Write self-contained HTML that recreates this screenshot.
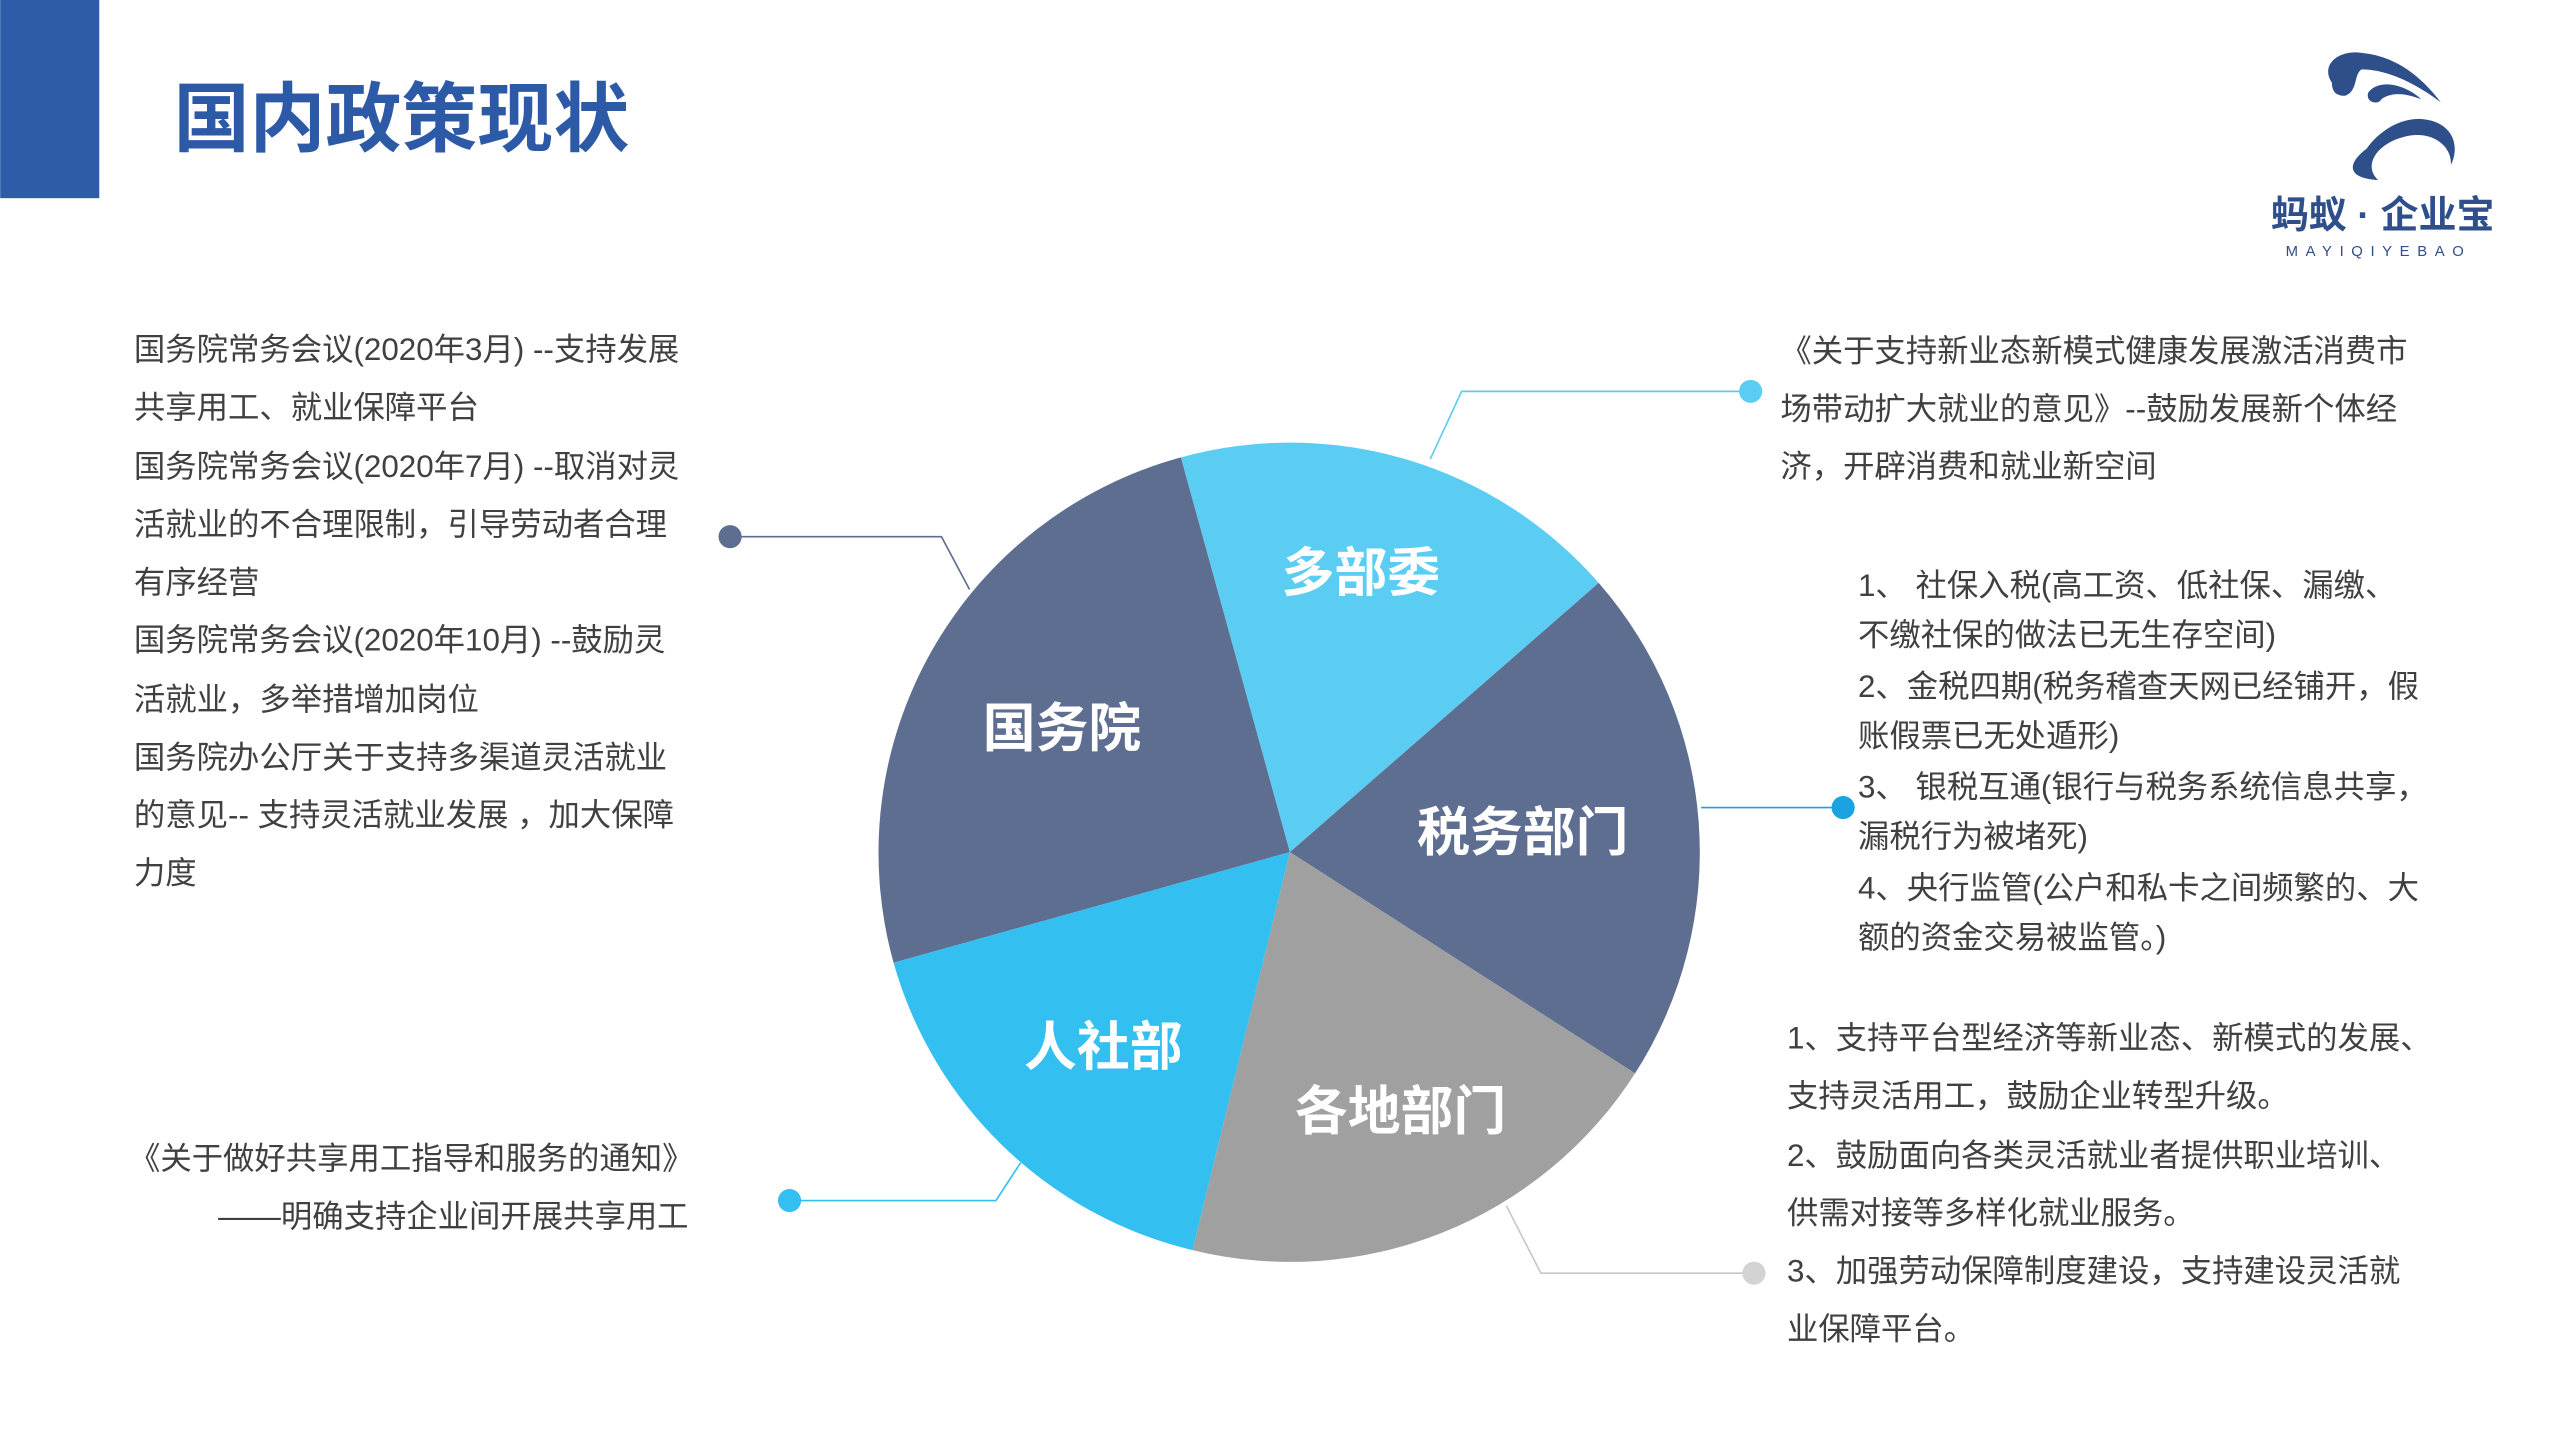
<!DOCTYPE html>
<html><head><meta charset="utf-8"><style>
html,body{margin:0;padding:0;background:#fff;}
svg{display:block}
text{font-family:"Liberation Sans","Noto Sans CJK SC",sans-serif;}
.t{font-size:19px;fill:#404040;}
.p{font-size:32px;font-weight:bold;fill:#fff;text-anchor:middle;}
</style></head><body>
<svg width="2560" height="1440" viewBox="0 0 1550 872" xmlns="http://www.w3.org/2000/svg">
<rect x="0" y="0" width="60" height="120" fill="#2f5ca8"/>
<text x="105" y="88" style="font-size:46px;font-weight:bold;fill:#2d5aa6">国内政策现状</text>

<!-- logo -->
<g fill="#2f4f8a">
<path d="M1412,50 C1405,40 1415,30 1430,32 C1450,34 1465,45 1478,62 C1462,50 1445,42 1430,42 C1425,45 1428,55 1420,58 C1414,58 1412,55 1412,50Z"/>
<path d="M1433,90 C1420,100 1422,108 1440,109 C1430,100 1440,85 1460,82 C1475,80 1485,90 1484,100 C1490,88 1485,73 1465,72 C1452,72 1440,80 1433,90Z"/>
<path d="M1434,56 C1440,48 1455,50 1466,60 C1455,56 1448,56 1442,60 C1440,64 1432,62 1434,56Z"/>
</g>
<text x="1375" y="138" style="font-size:23px;font-weight:bold;fill:#2f4f8a">蚂蚁 · 企业宝</text>
<text x="1384" y="155" style="font-size:9px;fill:#2f4f8a;letter-spacing:4.6px">MAYIQIYEBAO</text>

<!-- pie -->
<path d="M781,516 L541,583 A248,248 0 0 1 715,277 Z" fill="#5d6e91"/>
<path d="M781,516 L715,277 A248,248 0 0 1 968,353 Z" fill="#5bcdf3"/>
<path d="M781,516 L968,353 A248,248 0 0 1 990,650 Z" fill="#5d6e91"/>
<path d="M781,516 L990,650 A248,248 0 0 1 722,757 Z" fill="#a0a0a0"/>
<path d="M781,516 L722,757 A248,248 0 0 1 541,583 Z" fill="#33bff0"/>
<text class="p" x="643" y="452">国务院</text>
<text class="p" x="824" y="358">多部委</text>
<text class="p" x="922" y="515">税务部门</text>
<text class="p" x="668" y="645">人社部</text>
<text class="p" x="848" y="684">各地部门</text>

<!-- connectors -->
<g fill="none" stroke-width="1">
<polyline points="442,325 570,325 587,357" stroke="#5d6e91"/>
<polyline points="1060,237 885,237 866,278" stroke="#5bcdf3"/>
<polyline points="1030,489 1116,489" stroke="#1aa3e0"/>
<polyline points="1062,771 933,771 912,730" stroke="#c8c8c8"/>
<polyline points="478,727 603,727 618,704" stroke="#33bff0"/>
</g>
<circle cx="442" cy="325" r="7" fill="#5d6e91"/>
<circle cx="1060" cy="237" r="7" fill="#5bcdf3"/>
<circle cx="1116" cy="489" r="7" fill="#1aa3e0"/>
<circle cx="1062" cy="771" r="7" fill="#d3d3d3"/>
<circle cx="478" cy="727" r="7" fill="#33bff0"/>

<!-- left text -->
<g class="t">
<text x="81" y="218">国务院常务会议(2020年3月) --支持发展</text>
<text x="81" y="253">共享用工、就业保障平台</text>
<text x="81" y="289">国务院常务会议(2020年7月) --取消对灵</text>
<text x="81" y="324">活就业的不合理限制，引导劳动者合理</text>
<text x="81" y="359">有序经营</text>
<text x="81" y="394">国务院常务会议(2020年10月) --鼓励灵</text>
<text x="81" y="430">活就业，多举措增加岗位</text>
<text x="81" y="465">国务院办公厅关于支持多渠道灵活就业</text>
<text x="81" y="500">的意见-- 支持灵活就业发展 ，加大保障</text>
<text x="81" y="535">力度</text>
<text x="78" y="708">《关于做好共享用工指导和服务的通知》</text>
<text x="132" y="743">——明确支持企业间开展共享用工</text>

<text x="1078" y="219">《关于支持新业态新模式健康发展激活消费市</text>
<text x="1078" y="254">场带动扩大就业的意见》--鼓励发展新个体经</text>
<text x="1078" y="289">济，开辟消费和就业新空间</text>

<text x="1125" y="361">1、 社保入税(高工资、低社保、漏缴、</text>
<text x="1125" y="391">不缴社保的做法已无生存空间)</text>
<text x="1125" y="422">2、金税四期(税务稽查天网已经铺开，假</text>
<text x="1125" y="452">账假票已无处遁形)</text>
<text x="1125" y="483">3、 银税互通(银行与税务系统信息共享，</text>
<text x="1125" y="513">漏税行为被堵死)</text>
<text x="1125" y="544">4、央行监管(公户和私卡之间频繁的、大</text>
<text x="1125" y="574">额的资金交易被监管。)</text>

<text x="1082" y="635">1、支持平台型经济等新业态、新模式的发展、</text>
<text x="1082" y="670">支持灵活用工，鼓励企业转型升级。</text>
<text x="1082" y="706">2、鼓励面向各类灵活就业者提供职业培训、</text>
<text x="1082" y="741">供需对接等多样化就业服务。</text>
<text x="1082" y="776">3、加强劳动保障制度建设，支持建设灵活就</text>
<text x="1082" y="811">业保障平台。</text>
</g>
</svg>
</body></html>
